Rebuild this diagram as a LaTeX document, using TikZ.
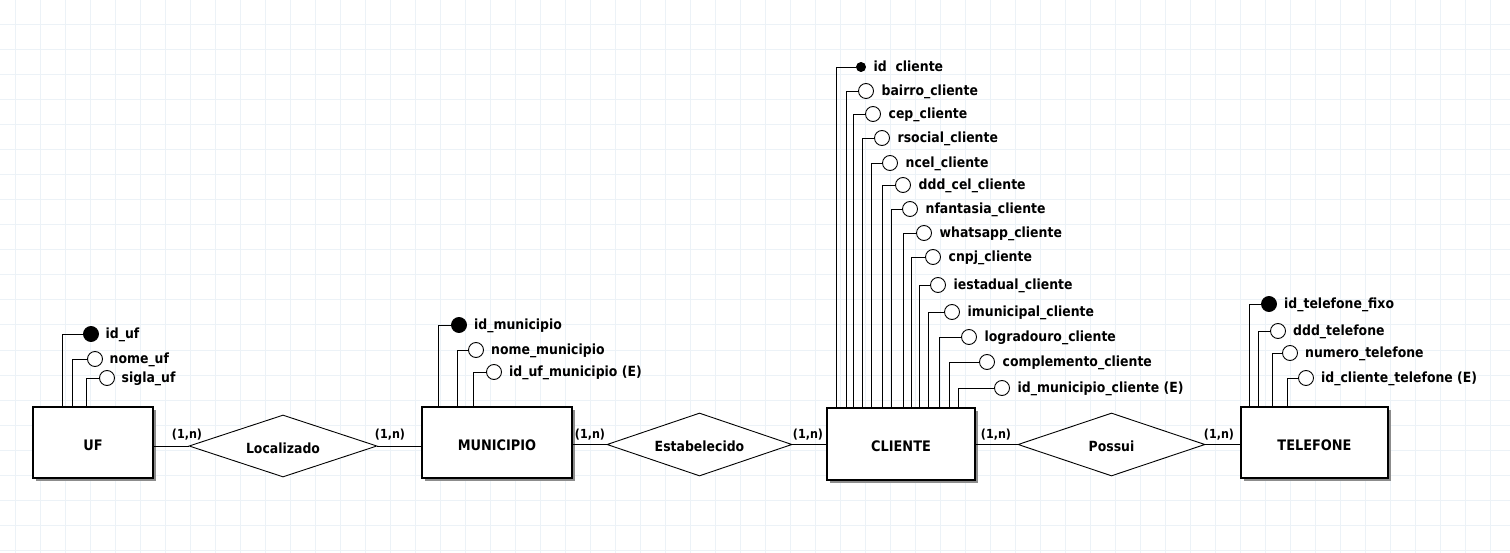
\documentclass[tikz,border=0pt]{standalone}
\usepackage{fontspec}
\setmainfont[FakeStretch=0.89]{DejaVu Sans}
\usepackage{tikz}
\usetikzlibrary{positioning,shapes.geometric,shadows}

\definecolor{gridc}{RGB}{236,242,247}

\begin{document}
\begin{tikzpicture}[x=1pt,y=-1pt,
  ent/.style={draw,line width=1.2pt,fill=white,inner sep=0pt,
    text height=15pt,text depth=0pt,
    font=\fontsize{14.5}{17}\selectfont\bfseries,
    drop shadow={shadow xshift=2.5pt,shadow yshift=-2.5pt,fill=black!45,opacity=1}},
  rel/.style={diamond,aspect=3,draw,line width=0.9pt,fill=white,inner sep=0pt,
    text height=14pt,text depth=0pt,
    font=\fontsize{14}{17}\selectfont\bfseries},
  attr/.style={circle,draw,line width=0.9pt,fill=white,inner sep=0pt,minimum size=15pt},
  chave/.style={attr,fill=black},
  chavep/.style={chave,minimum size=9pt},
  atxt/.style={inner sep=0pt,text height=11pt,text depth=2pt,
    font=\fontsize{14}{17}\selectfont\bfseries},
  card/.style={inner sep=0pt,font=\fontsize{12.5}{15}\selectfont\bfseries},
  lig/.style={line width=0.9pt}]
  \useasboundingbox[fill=white] (0,0) rectangle (1510,553);
  \foreach \gx in {15,40,...,1510}
    \draw[gridc,line width=1pt] (\gx,0) -- (\gx,553);
  \foreach \gy in {25,50,...,550}
    \draw[gridc,line width=1pt] (0,\gy) -- (1510,\gy);

  \node[ent,minimum width=120pt,minimum height=71pt] (uf) at (93,442.5) {UF};
  \node[ent,minimum width=150pt,minimum height=71pt] (mun) at (497,442.5) {MUNICIPIO};
  \node[ent,minimum width=148pt,minimum height=72pt] (cli) at (901,444) {CLIENTE};
  \node[ent,minimum width=147pt,minimum height=71pt] (tel) at (1314.5,442.5) {TELEFONE};

  \node[rel,minimum width=188pt,minimum height=62pt] (loc) at (283,446) {Localizado};
  \node[rel,minimum width=185pt,minimum height=63pt] (est) at (699.5,444.5) {Estabelecido};
  \node[rel,minimum width=187pt,minimum height=63pt] (pos) at (1111.5,444.5) {Possui};

  \draw[lig] (uf.east |- loc) -- (loc.west);
  \draw[lig] (loc.east) -- (mun.west |- loc);
  \draw[lig] (mun.east |- est) -- (est.west);
  \draw[lig] (est.east) -- (cli.west |- est);
  \draw[lig] (cli.east |- pos) -- (pos.west);
  \draw[lig] (pos.east) -- (tel.west |- pos);

  \node[card] (c1) at (187,435) {(1,n)};
  \node[card] (c2) at (390,435) {(1,n)};
  \node[card] (c3) at (590,435) {(1,n)};
  \node[card] (c4) at (808,435) {(1,n)};
  \node[card] (c5) at (996,435) {(1,n)};
  \node[card] (c6) at (1219,435) {(1,n)};

  \foreach \st/\vx/\cy/\cx/\tx [count=\i] in {
      chave/62/334/91/id\_uf,
      attr/72/359/95/nome\_uf,
      attr/86/378/107/sigla\_uf}{
    \node[\st] (uf-a\i) at (\cx,\cy) {};
    \node[atxt,right=6.5pt of uf-a\i] (uf-t\i) {\tx};
    \coordinate (uf-k\i) at (\vx,\cy);
    \draw[lig] (uf-a\i.west) -- (uf-k\i) -- (uf-k\i |- uf.north);
  }

  \foreach \st/\vx/\cy/\cx/\tx [count=\i] in {
      chave/438/325/459/id\_municipio,
      attr/457/350/476/nome\_municipio,
      attr/473/372/494/id\_uf\_municipio (E)}{
    \node[\st] (mun-a\i) at (\cx,\cy) {};
    \node[atxt,right=7pt of mun-a\i] (mun-t\i) {\tx};
    \coordinate (mun-k\i) at (\vx,\cy);
    \draw[lig] (mun-a\i.west) -- (mun-k\i) -- (mun-k\i |- mun.north);
  }

  \foreach \st/\vx/\cy/\cx/\tx [count=\i] in {
      chavep/836/67/861/id~~cliente,
      attr/846/91/866/bairro\_cliente,
      attr/853/114/873/cep\_cliente,
      attr/862/138/882/rsocial\_cliente,
      attr/871/163/890/ncel\_cliente,
      attr/882/185/903/ddd\_cel\_cliente,
      attr/891/209/910/nfantasia\_cliente,
      attr/903/233/924/whatsapp\_cliente,
      attr/911/257/933/cnpj\_cliente,
      attr/919/285/938/iestadual\_cliente,
      attr/928/312/952/imunicipal\_cliente,
      attr/939/337/969/logradouro\_cliente,
      attr/949/362/987/complemento\_cliente,
      attr/958/388/1002/id\_municipio\_cliente (E)}{
    \node[\st] (cli-a\i) at (\cx,\cy) {};
    \node[atxt,right=7.5pt of cli-a\i] (cli-t\i) {\tx};
    \coordinate (cli-k\i) at (\vx,\cy);
    \draw[lig] (cli-a\i.west) -- (cli-k\i) -- (cli-k\i |- cli.north);
  }

  \foreach \st/\vx/\cy/\cx/\tx [count=\i] in {
      chave/1249/304/1269/id\_telefone\_fixo,
      attr/1258/331/1278/ddd\_telefone,
      attr/1272/353/1290/numero\_telefone,
      attr/1287/378/1306/id\_cliente\_telefone (E)}{
    \node[\st] (tel-a\i) at (\cx,\cy) {};
    \node[atxt,right=7pt of tel-a\i] (tel-t\i) {\tx};
    \coordinate (tel-k\i) at (\vx,\cy);
    \draw[lig] (tel-a\i.west) -- (tel-k\i) -- (tel-k\i |- tel.north);
  }
\end{tikzpicture}
\end{document}
